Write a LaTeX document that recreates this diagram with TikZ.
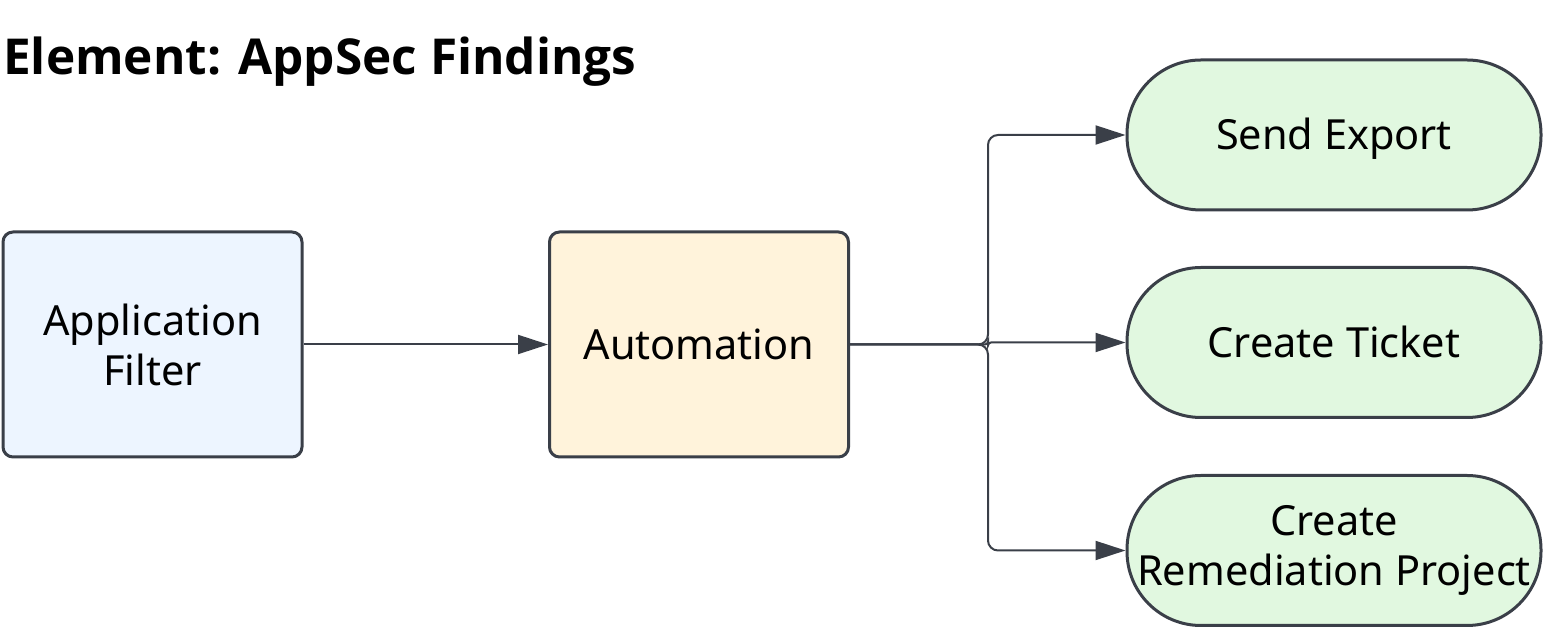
\documentclass[tikz,border=0pt]{standalone}
\usepackage{fontspec}
\setmainfont{Noto Sans}
\newfontfamily\titlefont{Open Sans}
\usetikzlibrary{arrows.meta}
\definecolor{edge}{HTML}{3A3F48}
\definecolor{bluefill}{HTML}{EDF5FF}
\definecolor{yellowfill}{HTML}{FFF3DB}
\definecolor{greenfill}{HTML}{E1F8E0}
\tikzset{
  box/.style={draw=edge, line width=3pt, rounded corners=10pt, minimum width=299pt, minimum height=225pt, align=center, inner sep=0pt, font=\fontsize{41.5}{50}\selectfont},
  pill/.style={draw=edge, line width=3pt, fill=greenfill, rounded corners=74pt, minimum width=414pt, minimum height=150pt, align=center, inner sep=0pt, font=\fontsize{41.5}{50}\selectfont},
  oneline/.style={text height=30pt, text depth=0pt},
  conn/.style={draw=edge, line width=2pt, -{Triangle[length=30pt,width=19pt]}},
}
\begin{document}
\begin{tikzpicture}[x=1pt,y=1pt]
\useasboundingbox (0,0) rectangle (1543,628);
\node[anchor=base west, inner sep=0pt, font=\titlefont\bfseries\fontsize{49.5}{56}\selectfont] (title) at (3,553) {Element: AppSec Findings};
\node[box, fill=bluefill] (app) at (152.5,283.5) {Application\\Filter};
\node[box, fill=yellowfill, oneline] (auto) at (699,283.5) {Automation};
\node[pill, oneline] (send) at (1334,493) {Send Export};
\node[pill, oneline] (ticket) at (1334,285.5) {Create Ticket};
\node[pill] (rem) at (1334,77.5) {Create\\Remediation Project};
\coordinate (jx) at (988,0);
\draw[conn] (app.east) -- (auto.west);
\draw[conn, rounded corners=10pt] (auto.east) -- (auto.east -| jx) |- (send.west);
\draw[conn, rounded corners=3pt] (auto.east) -- (auto.east -| jx) |- (ticket.west);
\draw[conn, rounded corners=10pt] (auto.east) -- (auto.east -| jx) |- (rem.west);
\end{tikzpicture}
\end{document}
